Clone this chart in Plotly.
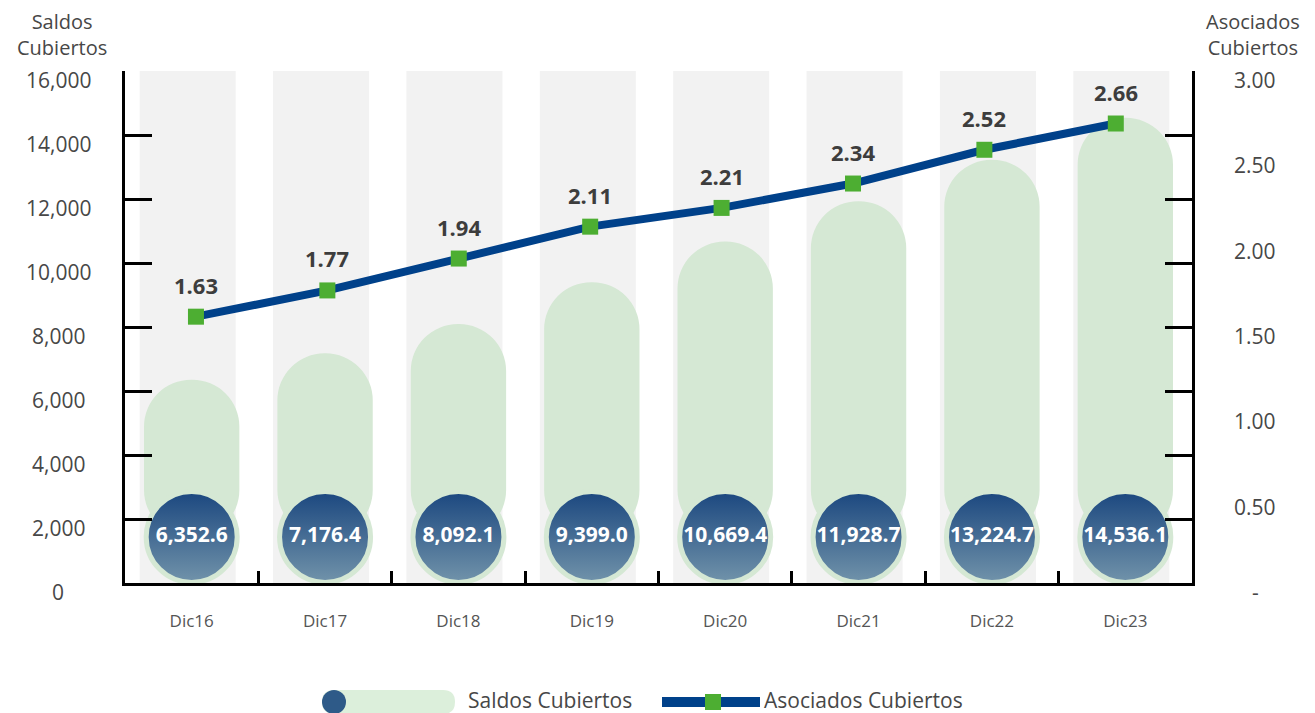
import plotly.graph_objects as go

categorias = ["Dic16", "Dic17", "Dic18", "Dic19", "Dic20", "Dic21", "Dic22", "Dic23"]
saldos = [6352.6, 7176.4, 8092.1, 9399.0, 10669.4, 11928.7, 13224.7, 14536.1]
asociados = [1.63, 1.77, 1.94, 2.11, 2.21, 2.34, 2.52, 2.66]

y_max = 16000
y_ticks = [0, 2000, 4000, 6000, 8000, 10000, 12000, 14000, 16000]
y_text = ["0", "2,000", "4,000", "6,000", "8,000", "10,000", "12,000", "14,000", "16,000"]
y2_text = ["-", "0.50", "1.00", "1.50", "2.00", "2.50", "3.00"]

# la linea de la imagen original no va sobre la misma escala que sus etiquetas
y2_range = [0.21, 2.94]
x2_range = [-0.54, 7.58]

# circulos al pie de cada barra
circulo_y = 1440

# la pagina html deja 8px de margen en el body
OFF = 8
W, H = 1315 - OFF, 713 - OFF
ML, MR, MT, MB = 125 - OFF, 123, 71 - OFF, 130
PW, PH = W - ML - MR, H - MT - MB


def px(x):
    return (x - OFF - ML) / PW


def py(y):
    return (H - MB - (y - OFF)) / PH


gris = "#f2f2f2"
verde = "#d5e8d4"
azul = "#00418a"
verde_marca = "#4dae32"
texto = "#474747"
fuente = "Open Sans"

fig = go.Figure()

# columnas grises de fondo
fig.add_trace(go.Bar(
    x=categorias, y=[y_max] * len(categorias),
    marker=dict(color=gris, line=dict(width=0)),
    width=0.72, offset=-0.39, hoverinfo="skip", showlegend=False,
))

# barras verdes redondeadas
fig.add_trace(go.Bar(
    x=categorias, y=[v - circulo_y for v in saldos], base=circulo_y,
    marker=dict(color=verde, line=dict(width=0), cornerradius="50%"),
    width=0.715, name="Saldos Cubiertos", showlegend=False,
    customdata=saldos, hovertemplate="%{x}: %{customdata:,.1f}<extra></extra>",
))

# circulos con el valor
fig.add_trace(go.Scatter(
    x=categorias, y=[circulo_y] * len(categorias),
    mode="markers+text",
    marker=dict(size=91, color="#1b477f",
                gradient=dict(type="vertical", color="#7193aa"),
                line=dict(width=5, color=verde)),
    text=[f"<b>{v:,.1f}</b>" for v in saldos],
    textposition="middle center",
    textfont=dict(family=fuente, size=21, color="white", weight=800),
    hoverinfo="skip", showlegend=False, cliponaxis=False,
))

# linea de asociados
idx = list(range(len(categorias)))
fig.add_trace(go.Scatter(
    x=idx, y=asociados, xaxis="x2", yaxis="y2",
    mode="lines+markers",
    line=dict(color=azul, width=8),
    marker=dict(symbol="square", size=16, color=verde_marca),
    name="Asociados Cubiertos", showlegend=False, cliponaxis=False,
    customdata=categorias, hovertemplate="%{customdata}: %{y:.2f}<extra></extra>",
))

for i, v in zip(idx, asociados):
    fig.add_annotation(
        x=i, y=v, xref="x2", yref="y2", yshift=32, showarrow=False,
        text=f"<b>{v:.2f}</b>",
        font=dict(family=fuente, size=22, color="#3d3d3d", weight=800),
    )

# etiquetas de los ejes (algo por debajo de cada marca, como en el original)
for v, t in zip(y_ticks, y_text):
    fig.add_annotation(x=px(58), y=v, xref="paper", yref="y", yshift=-9,
                       showarrow=False, xanchor="center", yanchor="middle", text=t,
                       font=dict(family=fuente, size=21, color=texto))
for i, t in enumerate(y2_text):
    fig.add_annotation(x=px(1255), y=i / (len(y2_text) - 1), xref="paper", yref="paper",
                       yshift=-9, showarrow=False, xanchor="center", yanchor="middle", text=t,
                       font=dict(family=fuente, size=21, color=texto))

# titulos de ejes
for txt, cx in [("Saldos<br>Cubiertos", 62), ("Asociados<br>Cubiertos", 1253)]:
    fig.add_annotation(x=px(cx), y=py(34), xref="paper", yref="paper", showarrow=False,
                       xanchor="center", yanchor="middle", text=txt, borderpad=0,
                       font=dict(family=fuente, size=20, color=texto))

# leyenda dibujada a mano
ly = 702
r = 12
x0, x1 = 322, 455
pill = (f"M {px(x0 + r)},{py(ly - r)} L {px(x1 - r)},{py(ly - r)} "
        f"Q {px(x1)},{py(ly - r)} {px(x1)},{py(ly)} Q {px(x1)},{py(ly + r)} {px(x1 - r)},{py(ly + r)} "
        f"L {px(x0 + r)},{py(ly + r)} Q {px(x0)},{py(ly + r)} {px(x0)},{py(ly)} "
        f"Q {px(x0)},{py(ly - r)} {px(x0 + r)},{py(ly - r)} Z")
fig.add_shape(type="path", path=pill, xref="paper", yref="paper",
              fillcolor="#dcefdb", line=dict(width=0), layer="above")
fig.add_shape(type="circle", xref="paper", yref="paper",
              x0=px(322), x1=px(346), y0=py(ly + r), y1=py(ly - r),
              fillcolor="#2e5a88", line=dict(width=0), layer="above")
fig.add_annotation(x=px(467), y=py(ly - 2), xref="paper", yref="paper", showarrow=False,
                   xanchor="left", yanchor="middle", text="Saldos Cubiertos", borderpad=0,
                   font=dict(family=fuente, size=21, color=texto))
fig.add_shape(type="line", xref="paper", yref="paper",
              x0=px(662), x1=px(760), y0=py(ly), y1=py(ly),
              line=dict(color=azul, width=10), layer="above")
fig.add_shape(type="rect", xref="paper", yref="paper",
              x0=px(705), x1=px(721), y0=py(ly + 8), y1=py(ly - 8),
              fillcolor=verde_marca, line=dict(width=0), layer="above")
fig.add_annotation(x=px(763), y=py(ly - 2), xref="paper", yref="paper", showarrow=False,
                   xanchor="left", yanchor="middle", text="Asociados Cubiertos", borderpad=0,
                   font=dict(family=fuente, size=21, color=texto))

fig.update_layout(
    width=W, height=H,
    margin=dict(l=ML, r=MR, t=MT, b=MB),
    paper_bgcolor="white", plot_bgcolor="white",
    barmode="overlay", bargap=0.28,
    showlegend=False,
    font=dict(family=fuente, color=texto),
    xaxis=dict(
        type="category", range=[-0.5, len(categorias) - 0.5], automargin=False,
        showline=True, linecolor="black", linewidth=3,
        ticks="inside", tickson="boundaries", ticklen=12, tickwidth=2.5, tickcolor="black",
        tickfont=dict(family=fuente, size=17, color="#555555"),
        ticklabelstandoff=21, showgrid=False, zeroline=False,
    ),
    xaxis2=dict(
        overlaying="x", range=x2_range, visible=False, automargin=False,
    ),
    yaxis=dict(
        range=[0, y_max], tickvals=y_ticks, showticklabels=False, automargin=False,
        showline=True, linecolor="black", linewidth=3, mirror="ticks",
        ticks="inside", ticklen=27, tickwidth=2.5, tickcolor="black",
        showgrid=False, zeroline=False,
    ),
    yaxis2=dict(
        overlaying="y", side="right", range=y2_range, automargin=False,
        visible=False, showgrid=False, zeroline=False,
    ),
)

fig.write_html("out.html")
